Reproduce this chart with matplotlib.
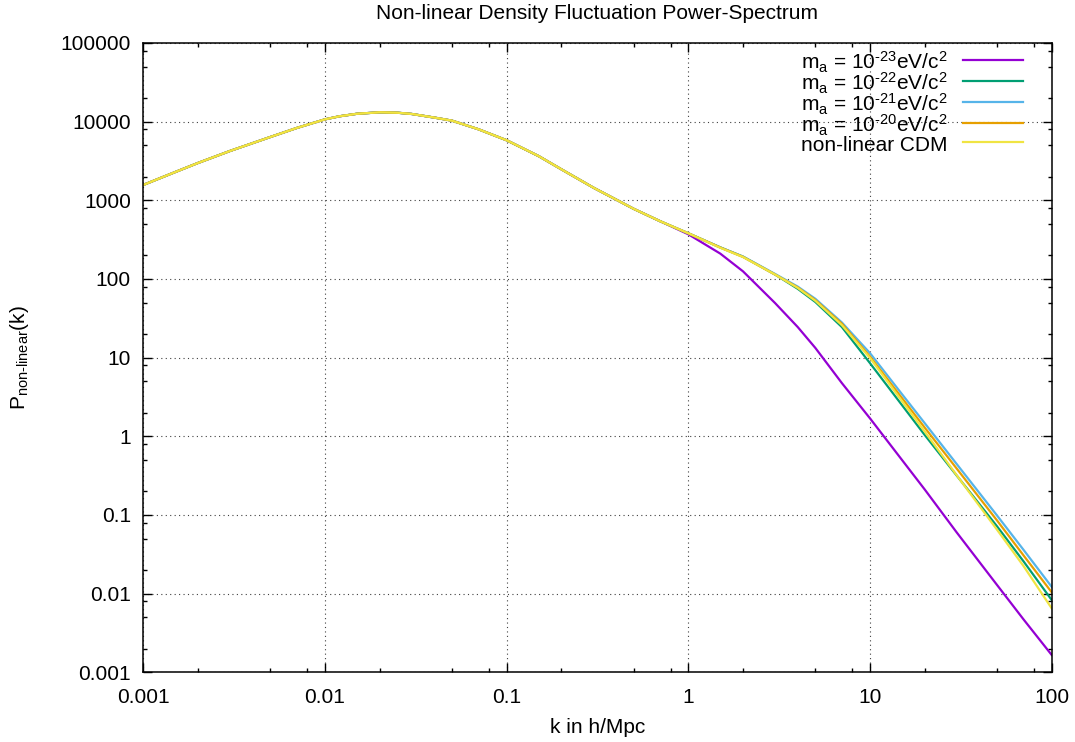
import matplotlib
matplotlib.use("Agg")
import matplotlib.pyplot as plt
from matplotlib.ticker import FixedLocator, FixedFormatter, NullFormatter

plt.rcParams['font.family'] = ['Liberation Sans', 'DejaVu Sans']
plt.rcParams['mathtext.fontset'] = 'custom'
plt.rcParams['mathtext.rm'] = 'Liberation Sans'
plt.rcParams['mathtext.default'] = 'regular'

# ---- data ----
k = [0.001, 0.0015, 0.002, 0.003, 0.005, 0.007, 0.01, 0.012, 0.015, 0.02,
     0.025, 0.03, 0.04, 0.05, 0.07, 0.1, 0.15, 0.2, 0.3, 0.5,
     0.7, 1.0, 1.5, 2.0, 3.0, 4.0, 5.0, 7.0, 10.0, 15.0,
     20.0, 30.0, 50.0, 70.0, 100.0]

P_low = [1570, 2290, 2985, 4240, 6380, 8320, 10700, 11700, 12600, 13150,
         13000, 12530, 11270, 10300, 8000, 5800, 3650, 2480, 1450, 780,
         542]

P_m23 = P_low + [370, 210, 125, 49.5, 24.5, 13.3, 4.75, 1.69, 0.50, 0.211,
                 0.060, 0.0129, 0.0047, 0.00166]
P_m22 = P_low + [381, 252, 192, 114, 75, 51, 24.5, 8.5, 2.49, 1.04,
                 0.317, 0.0718, 0.0257, 0.0083]
P_m21 = P_low + [381, 252, 193, 116, 80, 56, 28, 11.4, 3.43, 1.47,
                 0.444, 0.0986, 0.036, 0.0122]
P_m20 = P_low + [381, 251, 191, 114, 78, 54, 27, 10.3, 3.06, 1.29,
                 0.389, 0.0853, 0.0306, 0.0104]
P_cdm = P_low + [381, 249, 190, 114, 77, 52.8, 25.9, 9.9, 2.8, 1.15,
                 0.32, 0.065, 0.0224, 0.0065]

labels = [r"m$_{a}$ = 10$^{\text{-23}}$eV/c$^{2}$",
          r"m$_{a}$ = 10$^{\text{-22}}$eV/c$^{2}$",
          r"m$_{a}$ = 10$^{\text{-21}}$eV/c$^{2}$",
          r"m$_{a}$ = 10$^{\text{-20}}$eV/c$^{2}$",
          "non-linear CDM"]
series = [P_m23, P_m22, P_m21, P_m20, P_cdm]
colors = ['#9400d3', '#009e73', '#56b4e9', '#e69f00', '#f0e442']

xticks = [0.001, 0.01, 0.1, 1, 10, 100]
xticklabels = ["0.001", "0.01", "0.1", "1", "10", "100"]
yticks = [0.001, 0.01, 0.1, 1, 10, 100, 1000, 10000, 100000]
yticklabels = ["0.001", "0.01", "0.1", "1", "10", "100", "1000", "10000", "100000"]

FS = 15

# ---- figure ----
fig = plt.figure(figsize=(10.75, 7.42), dpi=100)
ax = fig.add_axes([143.3/1075, 1-672.3/742, (1051.7-143.3)/1075, (672.3-43)/742])

for P, lab, c in zip(series, labels, colors):
    ax.plot(k, P, color=c, lw=1.6, label=lab, solid_joinstyle='round')

ax.set_xscale('log')
ax.set_yscale('log')
ax.set_xlim(0.001, 100)
ax.set_ylim(0.001, 100000)

ax.xaxis.set_major_locator(FixedLocator(xticks))
ax.xaxis.set_major_formatter(FixedFormatter(xticklabels))
ax.yaxis.set_major_locator(FixedLocator(yticks))
ax.yaxis.set_major_formatter(FixedFormatter(yticklabels))
xminor = [m * 10.0**e for e in range(-3, 2) for m in (2, 5, 8)]
yminor = [m * 10.0**e for e in range(-3, 5) for m in (2, 5, 8)]
ax.xaxis.set_minor_locator(FixedLocator(xminor))
ax.yaxis.set_minor_locator(FixedLocator(yminor))
ax.xaxis.set_minor_formatter(NullFormatter())
ax.yaxis.set_minor_formatter(NullFormatter())

ax.tick_params(which='both', direction='in', top=True, right=True,
               labelsize=FS, width=1.0, colors='black')
ax.tick_params(which='major', length=6.5, pad=9)
ax.tick_params(which='minor', length=3.2)
ax.tick_params(axis='x', which='major', pad=11)

ax.grid(True, which='major', color='#404040', lw=0.8, linestyle=(0, (1, 3)))
for s in ax.spines.values():
    s.set_linewidth(1.1)
    s.set_color('black')

ax.set_title("Non-linear Density Fluctuation Power-Spectrum", fontsize=FS, pad=17)
ax.set_xlabel("k in h/Mpc", fontsize=FS, labelpad=8)
ax.set_ylabel(r"P$_{non\text{-}linear}$(k)", fontsize=FS, labelpad=21)

leg = ax.legend(loc='upper right', bbox_to_anchor=(0.985, 1.013), frameon=False,
                markerfirst=False, fontsize=FS, handlelength=2.9, handleheight=1.2,
                handletextpad=0.75, labelspacing=-0.2, borderpad=0.2)

fig.savefig("out.png", dpi=100)
